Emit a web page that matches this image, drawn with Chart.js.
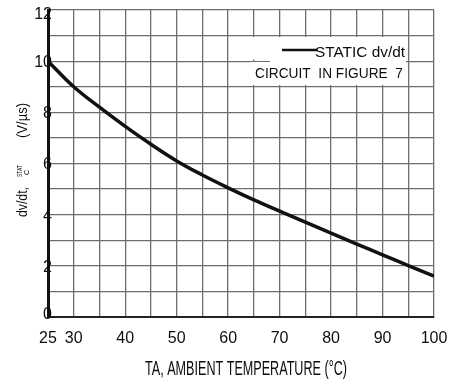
<!DOCTYPE html>
<html>
<head>
<meta charset="utf-8">
<script src="https://cdn.jsdelivr.net/npm/chart.js@4.4.1/dist/chart.umd.min.js"></script>
<style>
  body { margin: 0; background: #fff; }
  #wrap { width: 450px; height: 385px; }
</style>
</head>
<body>
<div id="wrap"><canvas id="myChart" width="450" height="385"></canvas></div>
<script>
// ambient temperature (°C) and static dv/dt (V/µs)
const temps = [25, 30, 35, 40, 45, 50, 55, 60, 65, 70, 75, 80, 85, 90, 95, 100];
const dvdt = [10, 9.0, 8.2, 7.45, 6.75, 6.1, 5.55, 5.05, 4.58, 4.14, 3.71, 3.28, 2.85, 2.43, 2.01, 1.6];

const xTickLabels = [25, 30, 40, 50, 60, 70, 80, 90, 100];
const yTickLabels = [0, 2, 4, 6, 8, 10, 12];

const legendLines = ['STATIC dv/dt', 'CIRCUIT  IN FIGURE  7'];
const xTitle = 'TA, AMBIENT TEMPERATURE (\u00B0C)';

const gridColor = '#6e6e6e';
const textColor = '#0d0d0d';
const fontFamily = "'Liberation Sans', Arial, sans-serif";

function fitText(ctx, text, x, y, w) {
    const m = ctx.measureText(text).width;
    ctx.save();
    ctx.translate(x, y);
    ctx.scale(w / m, 1);
    ctx.fillText(text, 0, 0);
    ctx.restore();
}

const extras = {
    id: 'extras',
    afterDraw(chart) {
        const ctx = chart.ctx;
        const xs = chart.scales.x;
        const ys = chart.scales.y;
        ctx.save();

        // tick labels (y ones sit on top of the axis line, like the original)
        ctx.fillStyle = textColor;
        ctx.font = '16px ' + fontFamily;
        ctx.textAlign = 'center';
        ctx.textBaseline = 'alphabetic';
        xTickLabels.forEach(v => {
            ctx.fillText(String(v), xs.getPixelForValue(v), 343);
        });
        ctx.textAlign = 'right';
        ctx.textBaseline = 'middle';
        yTickLabels.forEach(v => {
            const py = Math.min(Math.max(ys.getPixelForValue(v) + 1.5, 15), 315);
            ctx.fillText(String(v), xs.left + 4, py);
        });

        // white patch behind the legend text
        ctx.fillStyle = '#fff';
        ctx.fillRect(250, 37, 156, 22.5);
        ctx.fillRect(270, 59, 136, 4);
        ctx.fillRect(250, 62, 156, 23);

        ctx.strokeStyle = '#111';
        ctx.lineWidth = 2.5;
        ctx.beginPath();
        ctx.moveTo(282, 50);
        ctx.lineTo(317, 50);
        ctx.stroke();

        ctx.fillStyle = textColor;
        ctx.textBaseline = 'alphabetic';
        ctx.textAlign = 'left';
        ctx.font = '15px ' + fontFamily;
        fitText(ctx, legendLines[0], 315, 56.5, 90);
        fitText(ctx, legendLines[1], 255, 78, 148);

        // x axis title
        ctx.font = '20px ' + fontFamily;
        fitText(ctx, xTitle, 145, 375, 202);

        // y axis title, rotated
        ctx.save();
        ctx.translate(23, 217);
        ctx.rotate(-Math.PI / 2);
        ctx.textBaseline = 'middle';
        ctx.font = '14px ' + fontFamily;
        fitText(ctx, 'dv/dt,', 0, 0, 30);
        ctx.font = '8px ' + fontFamily;
        fitText(ctx, 'STAT', 40, -3.5, 12);
        fitText(ctx, 'C', 42, 4, 5);
        ctx.font = '14px ' + fontFamily;
        fitText(ctx, '(V/\u00B5s)', 79, 0, 35);
        ctx.restore();

        ctx.restore();
    }
};

const data = {
    datasets: [{
        label: 'STATIC dv/dt',
        data: temps.map((t, i) => ({ x: t, y: dvdt[i] })),
        borderColor: '#111',
        borderWidth: 3.5,
        pointRadius: 0,
        tension: 0.4,
        fill: false
    }]
};

const config = {
    type: 'line',
    data: data,
    options: {
        responsive: false,
        animation: false,
        layout: { padding: { left: 48, right: 16, top: 10, bottom: 68 } },
        plugins: {
            legend: { display: false },
            tooltip: { enabled: false }
        },
        scales: {
            x: {
                type: 'linear',
                min: 25,
                max: 100,
                afterFit(scale) { scale.height = 0; },
                ticks: { display: false, stepSize: 5, autoSkip: false },
                grid: { color: gridColor, lineWidth: 1.3, drawTicks: false },
                border: { color: '#222', width: 2 }
            },
            y: {
                min: 0,
                max: 12,
                afterFit(scale) { scale.width = 0; },
                ticks: { display: false, stepSize: 1, autoSkip: false },
                grid: { color: gridColor, lineWidth: 1.3, drawTicks: false },
                border: { color: '#111', width: 3 }
            }
        }
    },
    plugins: [extras]
};

const myChart = new Chart(document.getElementById('myChart'), config);
</script>
</body>
</html>
